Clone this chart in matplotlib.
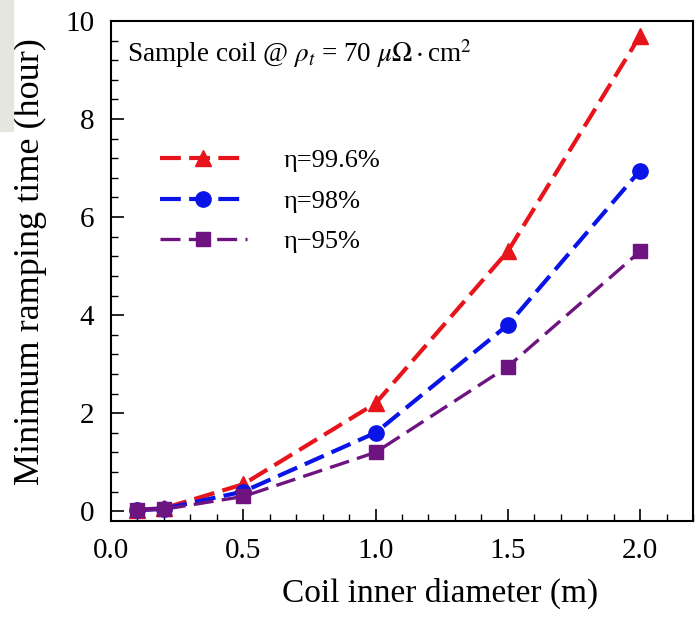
import matplotlib.pyplot as plt
from matplotlib.patches import Rectangle
from matplotlib.ticker import MultipleLocator

plt.rcParams['font.family'] = ['Liberation Serif', 'DejaVu Serif']
plt.rcParams['mathtext.fontset'] = 'stix'

# coil inner diameter (m) and minimum ramping time (hour)
diameter = [0.1, 0.2, 0.5, 1.0, 1.5, 2.0]
t_996 = [0.03, 0.06, 0.55, 2.2, 5.3, 9.7]
t_98 = [0.02, 0.05, 0.40, 1.6, 3.8, 6.95]
t_95 = [0.02, 0.04, 0.30, 1.2, 2.95, 5.3]
labels = ['η=99.6%', 'η=98%', 'η−95%']

fig = plt.figure(figsize=(6.97, 6.26), dpi=100)
ax = fig.add_axes([111 / 697, 1 - 521 / 626, 582 / 697, 500 / 626])

# grey corner patch
fig.patches.append(Rectangle((0, 1 - 131 / 626), 13 / 697, 131 / 626,
                             transform=fig.transFigure, color='#e6e6e0', zorder=0))

ax.plot(diameter, t_996, color='#e8141c', lw=3.0, dashes=(5, 2),
        marker='^', ms=11, label=labels[0])
ax.plot(diameter, t_98, color='#0a14e6', lw=3.0, dashes=(5, 2),
        marker='o', ms=11, label=labels[1])
ax.plot(diameter, t_95, color='#6e1480', lw=2.4, dashes=(6, 2.5),
        marker='s', ms=10, label=labels[2])

ax.set_xlim(0, 2.2)
ax.set_ylim(-0.2, 10)
ax.xaxis.set_major_locator(MultipleLocator(0.5))
ax.xaxis.set_minor_locator(MultipleLocator(0.1))
ax.yaxis.set_major_locator(MultipleLocator(2))
ax.yaxis.set_minor_locator(MultipleLocator(0.4))
ax.xaxis.set_major_formatter(plt.FormatStrFormatter('%.1f'))
ax.tick_params(which='major', direction='in', length=9, width=1.2,
               labelsize=21, pad=12)
ax.tick_params(which='minor', direction='in', length=5, width=1.0)
for s in ax.spines.values():
    s.set_linewidth(1.5)

ax.set_xlabel('Coil inner diameter (m)', fontsize=24, labelpad=10)
ax.xaxis.label.set_x(0.565)
ax.set_ylabel('Minimum ramping time (hour)', fontsize=26, labelpad=13)
ax.yaxis.label.set_y(0.518)

ax.text(0.028, 0.935, r'Sample coil @ $\rho_t$ = 70 $\mu\Omega\cdot$cm$^2$',
        transform=ax.transAxes, fontsize=19.5, ha='left', va='center')

ax.legend(loc='upper left', bbox_to_anchor=(0.043, 0.792), frameon=False,
          fontsize=19, handlelength=3.3, handletextpad=1.4, labelspacing=0.65)

fig.savefig('out.png', dpi=100)
